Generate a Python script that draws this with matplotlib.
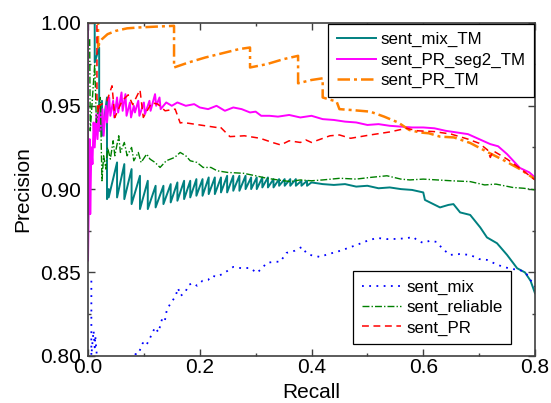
import matplotlib
matplotlib.use("Agg")
import matplotlib.pyplot as plt

plt.rcParams['font.family'] = ['Liberation Sans', 'DejaVu Sans']

# ---------------- data ----------------
# sent_mix_TM (teal)
mix_tm_r = [0.012, 0.012, 0.020, 0.020, 0.025, 0.025, 0.034, 0.034,
            0.037, 0.037, 0.052, 0.052, 0.065, 0.065, 0.078, 0.078, 0.093, 0.093,
            0.107, 0.107, 0.121, 0.121, 0.135, 0.135, 0.148, 0.148, 0.160, 0.160,
            0.172, 0.172, 0.183, 0.183, 0.194, 0.194, 0.205, 0.205, 0.216, 0.216,
            0.227, 0.227, 0.238, 0.238, 0.249, 0.249, 0.260, 0.260, 0.271, 0.271,
            0.282, 0.282, 0.292, 0.292, 0.302, 0.302, 0.312, 0.312, 0.322, 0.322,
            0.332, 0.332, 0.342, 0.342, 0.352, 0.352, 0.362, 0.362, 0.372, 0.372,
            0.382, 0.382, 0.392, 0.392,
            0.40, 0.42, 0.44, 0.46, 0.48, 0.50, 0.52, 0.54, 0.56, 0.58, 0.60, 0.603,
            0.615, 0.63, 0.645, 0.654, 0.666, 0.684, 0.702, 0.714, 0.732, 0.75,
            0.768, 0.782, 0.792, 0.80]
mix_tm_p = [1.000, 0.976, 0.985, 0.935, 0.953, 0.932, 0.955, 0.894,
            0.900, 0.895, 0.916, 0.895, 0.915, 0.894, 0.912, 0.891, 0.908, 0.888,
            0.905, 0.888, 0.902, 0.889, 0.902, 0.891, 0.903, 0.892, 0.904, 0.893,
            0.905, 0.894, 0.905, 0.895, 0.906, 0.896, 0.906, 0.896, 0.907, 0.897,
            0.907, 0.897, 0.907, 0.898, 0.908, 0.898, 0.908, 0.899, 0.908, 0.899,
            0.908, 0.900, 0.907, 0.900, 0.907, 0.900, 0.907, 0.901, 0.907, 0.901,
            0.906, 0.901, 0.906, 0.902, 0.906, 0.902, 0.906, 0.902, 0.906, 0.902,
            0.905, 0.902, 0.905, 0.902,
            0.904, 0.903, 0.9025, 0.903, 0.9015, 0.902, 0.9005, 0.901, 0.900, 0.8995, 0.898, 0.8935,
            0.8915, 0.889, 0.8905, 0.891, 0.886, 0.8845, 0.877, 0.871, 0.8675, 0.8605,
            0.8525, 0.850, 0.845, 0.8375]

# sent_PR_seg2_TM (magenta)
seg2_r = [0.000, 0.000, 0.003, 0.004, 0.006, 0.008, 0.010, 0.012, 0.015, 0.017, 0.020,
          0.022, 0.026, 0.028, 0.032, 0.034, 0.038, 0.040, 0.045, 0.047, 0.052, 0.054,
          0.060, 0.062, 0.067, 0.069, 0.075, 0.077, 0.082, 0.084, 0.090, 0.092, 0.100,
          0.102, 0.110, 0.112, 0.120, 0.122, 0.128, 0.130, 0.140, 0.150, 0.160, 0.175,
          0.19, 0.20, 0.215, 0.23, 0.245, 0.26, 0.275, 0.29, 0.30, 0.31, 0.325, 0.34,
          0.36, 0.38, 0.40, 0.42, 0.44, 0.46, 0.48, 0.50, 0.52, 0.54, 0.56, 0.58, 0.60,
          0.62, 0.64, 0.66, 0.68, 0.70, 0.72, 0.734, 0.75, 0.773, 0.79, 0.80]
seg2_p = [1.000, 0.857, 0.930, 0.885, 0.925, 0.915, 0.940, 0.925, 0.945, 0.930, 0.950,
          0.935, 0.948, 0.932, 0.950, 0.940, 0.955, 0.944, 0.953, 0.943, 0.955, 0.946,
          0.958, 0.947, 0.957, 0.944, 0.952, 0.943, 0.950, 0.946, 0.953, 0.944, 0.952,
          0.945, 0.953, 0.947, 0.957, 0.950, 0.955, 0.948, 0.952, 0.950, 0.952, 0.950,
          0.951, 0.949, 0.948, 0.950, 0.947, 0.949, 0.948, 0.946, 0.9465, 0.944, 0.944, 0.9435,
          0.9445, 0.943, 0.944, 0.942, 0.9415, 0.9405, 0.940, 0.9385, 0.939, 0.938, 0.9375, 0.937, 0.937,
          0.9365, 0.935, 0.934, 0.933, 0.930, 0.927, 0.9257, 0.921, 0.9127, 0.910, 0.907]

# sent_PR_TM (orange)
prtm_r = [0.000, 0.018, 0.018, 0.020, 0.025, 0.035, 0.050, 0.070, 0.090, 0.120, 0.154,
          0.154, 0.180, 0.210, 0.240, 0.270, 0.290, 0.290, 0.320, 0.350, 0.376, 0.376,
          0.400, 0.420, 0.420, 0.430, 0.445, 0.450, 0.470, 0.505, 0.530, 0.555, 0.575,
          0.594, 0.610, 0.630, 0.655, 0.684, 0.714, 0.743, 0.773, 0.800]
prtm_p = [1.000, 1.000, 0.984, 0.9875, 0.990, 0.993, 0.995, 0.9965, 0.997, 0.9975, 0.998,
          0.973, 0.976, 0.979, 0.9815, 0.984, 0.985, 0.973, 0.975, 0.978, 0.980, 0.9635,
          0.9655, 0.9665, 0.955, 0.954, 0.9525, 0.948, 0.9475, 0.9465, 0.9435, 0.940, 0.9355,
          0.934, 0.9335, 0.9315, 0.931, 0.9277, 0.9224, 0.9175, 0.912, 0.906]

# sent_mix (blue)
mix_r = [0.006, 0.006, 0.008, 0.010, 0.012, 0.013, 0.015, 0.016, 0.020,
         0.080, 0.085, 0.090, 0.098, 0.104, 0.111, 0.115, 0.120, 0.126, 0.132, 0.137,
         0.141, 0.147, 0.152, 0.157, 0.161, 0.166, 0.174, 0.180, 0.188, 0.195, 0.205,
         0.215, 0.222, 0.231, 0.240, 0.250, 0.260, 0.275, 0.290, 0.302, 0.310, 0.320,
         0.335, 0.344, 0.355, 0.370, 0.383, 0.390, 0.397, 0.415, 0.430, 0.445, 0.460,
         0.481, 0.500, 0.517, 0.535, 0.553, 0.570, 0.582, 0.590, 0.600, 0.612, 0.624,
         0.635, 0.648, 0.665, 0.684, 0.700, 0.714, 0.730, 0.743, 0.760, 0.773, 0.785, 0.800]
mix_p = [0.845, 0.800, 0.808, 0.815, 0.805, 0.812, 0.803, 0.800, 0.790,
         0.795, 0.801, 0.801, 0.8076, 0.806, 0.8106, 0.8135, 0.817, 0.814, 0.8214, 0.820,
         0.8274, 0.831, 0.8334, 0.836, 0.8406, 0.836, 0.838, 0.8425, 0.8436, 0.842, 0.845,
         0.8455, 0.848, 0.8473, 0.849, 0.851, 0.8533, 0.8525, 0.8527, 0.8497, 0.852, 0.8557,
         0.8565, 0.8563, 0.8617, 0.863, 0.8653, 0.862, 0.8605, 0.8593, 0.861, 0.8623, 0.864,
         0.8665, 0.869, 0.8707, 0.870, 0.8701, 0.8705, 0.8713, 0.869, 0.8677, 0.869, 0.8683,
         0.864, 0.8605, 0.861, 0.8605, 0.858, 0.8575, 0.855, 0.8533, 0.852, 0.8515, 0.849, 0.8413]

# sent_reliable (green)
rel_r = [0.003, 0.004, 0.012, 0.015, 0.022, 0.025, 0.028, 0.032, 0.035, 0.040, 0.045,
         0.048, 0.055, 0.058, 0.065, 0.070, 0.078, 0.082, 0.090, 0.095, 0.105, 0.111,
         0.120, 0.129, 0.140, 0.155, 0.165, 0.175, 0.183, 0.195, 0.206, 0.220, 0.231,
         0.250, 0.278, 0.300, 0.320, 0.340, 0.362, 0.380, 0.400, 0.420, 0.451, 0.480,
         0.505, 0.535, 0.560, 0.576, 0.600, 0.625, 0.650, 0.684, 0.710, 0.730, 0.760,
         0.780, 0.800]
rel_p = [0.990, 0.935, 0.975, 0.940, 0.955, 0.905, 0.920, 0.912, 0.925, 0.918, 0.929,
         0.920, 0.932, 0.922, 0.928, 0.920, 0.925, 0.917, 0.922, 0.916, 0.921, 0.918,
         0.916, 0.913, 0.917, 0.919, 0.922, 0.920, 0.917, 0.916, 0.913, 0.913, 0.911,
         0.910, 0.9095, 0.908, 0.9065, 0.9055, 0.9045, 0.9055, 0.905, 0.9055, 0.9065, 0.906,
         0.907, 0.908, 0.906, 0.9055, 0.906, 0.9055, 0.905, 0.9045, 0.9025, 0.903, 0.901,
         0.9005, 0.8995]

# sent_PR (red)
pr_r = [0.000, 0.016, 0.016, 0.018, 0.020, 0.034, 0.043, 0.048, 0.061, 0.072, 0.080,
        0.093, 0.099, 0.114, 0.125, 0.138, 0.156, 0.165, 0.170, 0.200, 0.230, 0.236,
        0.254, 0.280, 0.308, 0.330, 0.345, 0.360, 0.380, 0.390, 0.400, 0.433, 0.450,
        0.470, 0.505, 0.540, 0.570, 0.590, 0.620, 0.650, 0.680, 0.700, 0.715, 0.720,
        0.725, 0.750, 0.775, 0.800]
pr_p = [1.000, 1.000, 0.955, 0.946, 0.950, 0.953, 0.962, 0.943, 0.953, 0.9566, 0.9507,
        0.9596, 0.943, 0.9518, 0.951, 0.947, 0.948, 0.9397, 0.940, 0.9385, 0.937, 0.9375,
        0.9315, 0.932, 0.9305, 0.928, 0.9265, 0.929, 0.928, 0.9295, 0.928, 0.932, 0.9325,
        0.9305, 0.9325, 0.9343, 0.9365, 0.935, 0.9345, 0.933, 0.930, 0.9275, 0.9235, 0.919,
        0.923, 0.918, 0.912, 0.9055]

labels_top = ['sent_mix_TM', 'sent_PR_seg2_TM', 'sent_PR_TM']
labels_bottom = ['sent_mix', 'sent_reliable', 'sent_PR']

# ---------------- plot ----------------
fig = plt.figure(figsize=(5.51, 4.03), dpi=100)
ax = fig.add_axes([88/551, 1-355.7/403, (535-88)/551, (355.7-22.5)/403])

l_mix_tm, = ax.plot(mix_tm_r, mix_tm_p, color='#008080', lw=1.4, label=labels_top[0])
l_seg2, = ax.plot(seg2_r, seg2_p, color='#FF00FF', lw=1.4, label=labels_top[1])
l_prtm, = ax.plot(prtm_r, prtm_p, color='#FF8000', lw=1.8, dashes=(5, 1.6, 1.2, 1.6), label=labels_top[2])
l_mix, = ax.plot(mix_r, mix_p, color='#0000FF', lw=1.3, dashes=(1, 3), label=labels_bottom[0])
l_rel, = ax.plot(rel_r, rel_p, color='#008000', lw=1.0, dashes=(5, 1.5, 1, 1.5), label=labels_bottom[1])
l_pr, = ax.plot(pr_r, pr_p, color='#FF0000', lw=1.1, dashes=(4.5, 3), label=labels_bottom[2])

ax.set_xlim(0.0, 0.8)
ax.set_ylim(0.80, 1.00)
ax.set_xticks([0.0, 0.2, 0.4, 0.6, 0.8])
ax.set_xticks([0.1, 0.3, 0.5, 0.7], minor=True)
ax.set_yticks([0.80, 0.85, 0.90, 0.95, 1.00])
ax.set_yticks([0.825, 0.875, 0.925, 0.975], minor=True)
ax.set_xticklabels(['0.0', '0.2', '0.4', '0.6', '0.8'])
ax.set_yticklabels(['0.80', '0.85', '0.90', '0.95', '1.00'])

spine_c = '#404040'
for s in ax.spines.values():
    s.set_color(spine_c)
    s.set_linewidth(1.2)
ax.tick_params(which='both', direction='in', top=True, right=True, color=spine_c,
               labelsize=15, width=1.0)
ax.tick_params(which='major', length=5)
ax.tick_params(which='minor', length=2.5)
ax.tick_params(axis='x', pad=2)
ax.tick_params(axis='y', pad=5)

ax.set_xlabel('Recall', fontsize=15, labelpad=4)
ax.set_ylabel('Precision', fontsize=15, labelpad=6)

leg_kw = dict(fontsize=12.2, fancybox=False, edgecolor='black', framealpha=1,
              handlelength=2.3, handletextpad=0.3, labelspacing=0.31, borderpad=0.5,
              borderaxespad=0)
leg1 = ax.legend(handles=[l_mix_tm, l_seg2, l_prtm], loc='upper right',
                 bbox_to_anchor=(0.998, 0.996), **leg_kw)
leg1.get_frame().set_linewidth(0.9)
ax.add_artist(leg1)
leg2 = ax.legend(handles=[l_mix, l_rel, l_pr], loc='lower right',
                 bbox_to_anchor=(0.946, 0.035), **leg_kw)
leg2.get_frame().set_linewidth(0.9)

fig.savefig('out.png', dpi=100)
